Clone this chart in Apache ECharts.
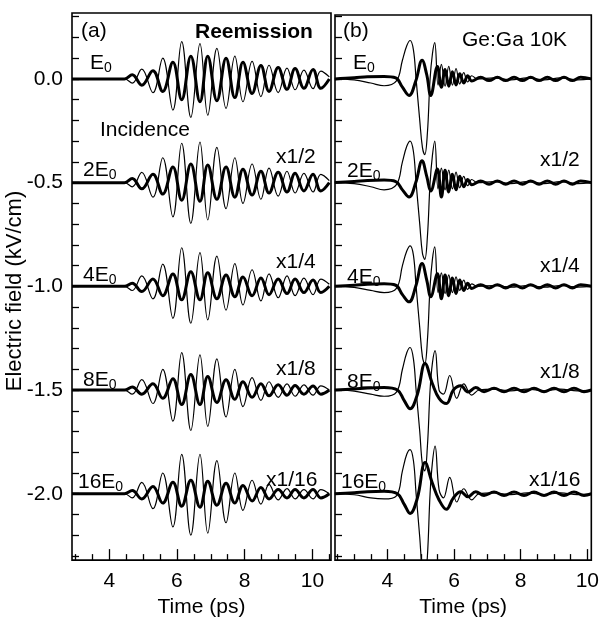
<!DOCTYPE html>
<html>
<head>
<meta charset="utf-8">
<script src="https://cdn.jsdelivr.net/npm/echarts@6/dist/echarts.min.js"></script>
<style>
  html, body { margin: 0; padding: 0; background: #fff; }
  #chart { width: 602px; height: 623px; }
</style>
</head>
<body>
<div id="chart"></div>
<script>
// vertical offsets of the five traces (E0, 2E0, 4E0, 8E0, 16E0)
const traceOffsets = [0, -0.5, -1, -1.5, -2];

// panel (a) Reemission: time of each extremum, shared by all traces
const tA = [2.9, 4.45, 4.68, 4.96, 5.29, 5.58, 5.88, 6.14, 6.41, 6.68, 6.91, 7.18, 7.45,
  7.71, 7.95, 8.22, 8.48, 8.72, 8.99, 9.25, 9.49, 9.75, 10.02, 10.25, 10.5];
// incidence (thin)
const aInc1 = [0, 0, -0.02, 0.047, -0.066, 0.10, -0.15, 0.18, -0.185, 0.17, -0.175, 0.147, -0.142, 0.11, -0.11, 0.085, -0.085, 0.066, -0.066, 0.052, -0.052, 0.043, -0.047, 0.038, 0.01];
const aInc2 = [0, 0, -0.02, 0.05, -0.07, 0.12, -0.165, 0.19, -0.196, 0.195, -0.18, 0.17, -0.125, 0.12, -0.1, 0.09, -0.08, 0.07, -0.065, 0.055, -0.05, 0.045, -0.045, 0.04, 0.01];
const aInc4 = [0, 0, -0.02, 0.05, -0.06, 0.107, -0.154, 0.186, -0.178, 0.163, -0.162, 0.146, -0.115, 0.11, -0.09, 0.08, -0.07, 0.06, -0.055, 0.05, -0.045, 0.04, -0.04, 0.035, 0.01];
const aInc8 = [0, 0, -0.02, 0.05, -0.065, 0.10, -0.15, 0.18, -0.195, 0.17, -0.175, 0.15, -0.13, 0.10, -0.08, 0.06, -0.05, 0.04, -0.035, 0.03, -0.03, 0.025, -0.025, 0.02, 0];
const aInc16 = [0, 0, -0.02, 0.055, -0.072, 0.10, -0.16, 0.19, -0.2, 0.19, -0.19, 0.16, -0.14, 0.10, -0.08, 0.065, -0.05, 0.045, -0.03, 0.025, -0.025, 0.02, -0.025, 0.02, 0];
// reemission (thick)
const aRe1 = [0, 0, 0.02, -0.03, 0.04, -0.06, 0.08, -0.10, 0.11, -0.11, 0.11, -0.105, 0.10, -0.09, 0.08, -0.07, 0.065, -0.06, 0.055, -0.05, 0.05, -0.045, 0.045, -0.045, 0];
const aRe2 = [0, 0, 0.02, -0.03, 0.04, -0.055, 0.075, -0.085, 0.09, -0.09, 0.085, -0.08, 0.075, -0.07, 0.065, -0.06, 0.055, -0.05, 0.05, -0.045, 0.045, -0.04, 0.04, -0.04, 0];
const aRe4 = [0, 0, 0.015, -0.025, 0.035, -0.045, 0.06, -0.065, 0.07, -0.065, 0.065, -0.06, 0.055, -0.05, 0.045, -0.045, 0.04, -0.04, 0.035, -0.035, 0.035, -0.03, 0.03, -0.03, 0];
const aRe8 = [0, 0, 0.015, -0.02, 0.03, -0.04, 0.055, -0.07, 0.075, -0.07, 0.065, -0.06, 0.05, -0.045, 0.04, -0.035, 0.03, -0.028, 0.025, -0.025, 0.022, -0.02, 0.02, -0.02, 0];
const aRe16 = [0, 0, 0.015, -0.025, 0.035, -0.045, 0.055, -0.06, 0.065, -0.065, 0.06, -0.055, 0.05, -0.045, 0.04, -0.035, 0.03, -0.025, 0.02, -0.02, 0.02, -0.02, 0.02, -0.02, 0];

// panel (b) Ge:Ga 10K
const tB1 = [2.42, 3.0, 3.5, 3.9, 4.27, 4.45, 4.58, 4.68, 4.78, 4.86, 4.97, 5.05, 5.12, 5.2, 5.28, 5.35, 5.42,
  5.52, 5.62, 5.73, 5.84, 5.95, 6.06, 6.17, 6.29, 6.41, 6.53, 6.7, 7.2, 7.7, 8.2, 8.7, 9.2, 9.7, 10.12];
const bInc1 = [0, -0.005, -0.02, -0.033, -0.01, 0.09, 0.16, 0.185, 0.14, 0, -0.2, -0.33, -0.365, -0.26, 0, 0.12, 0.175, -0.03, 0.07, -0.035, 0.06, -0.03, 0.05, -0.025, 0.03, -0.015, 0.015, 0, 0.005, -0.005, 0.005, -0.005, 0.005, -0.005, 0];
const bInc2 = [0, -0.005, -0.02, -0.035, -0.01, 0.1, 0.175, 0.2, 0.15, 0, -0.2, -0.34, -0.37, -0.26, 0, 0.13, 0.2, -0.03, 0.07, -0.035, 0.06, -0.03, 0.05, -0.025, 0.03, -0.015, 0.015, 0, 0.005, -0.005, 0.005, -0.005, 0.005, -0.005, 0];
const bInc4 = [0, -0.005, -0.02, -0.03, -0.01, 0.1, 0.17, 0.195, 0.15, 0, -0.2, -0.34, -0.375, -0.26, 0, 0.13, 0.19, -0.03, 0.065, -0.035, 0.055, -0.03, 0.045, -0.02, 0.03, -0.015, 0.012, 0, 0.004, -0.004, 0.004, -0.004, 0.004, -0.004, 0];
const tB2 = [2.42, 3.0, 3.5, 3.9, 4.27, 4.45, 4.58, 4.68, 4.78, 4.86, 4.97, 5.05, 5.12, 5.2, 5.28, 5.35, 5.43,
  5.55, 5.68, 5.87, 6.08, 6.29, 6.53, 6.75, 7.2, 7.7, 8.2, 8.7, 9.2, 9.7, 10.12];
const bInc8 = [0, -0.005, -0.02, -0.03, -0.01, 0.1, 0.18, 0.205, 0.15, 0, -0.2, -0.36, -0.39, -0.27, 0, 0.13, 0.19, 0.0, -0.02, 0.07, -0.04, 0.03, -0.025, 0, 0.004, -0.004, 0.004, -0.004, 0.004, -0.004, 0];
const bInc16 = [0, -0.005, -0.02, -0.025, -0.01, 0.11, 0.19, 0.213, 0.16, 0, -0.21, -0.38, -0.42, -0.3, 0, 0.15, 0.23, 0.02, -0.02, 0.079, -0.04, 0.024, -0.03, 0, 0.004, -0.004, 0.004, -0.004, 0.004, -0.004, 0];
const tB3 = [2.42, 3.0, 3.4, 3.9, 4.25, 4.45, 4.65, 4.85, 5.04, 5.18, 5.3, 5.5, 5.62, 5.73, 5.84, 5.95, 6.06, 6.17,
  6.29, 6.41, 6.53, 6.8, 7.05, 7.3, 7.55, 7.8, 8.05, 8.3, 8.55, 8.8, 9.05, 9.3, 9.55, 9.8, 10.12];
const bRe1 = [0, 0.005, 0.01, 0.012, 0.005, -0.04, -0.08, -0.01, 0.09, 0.02, -0.08, 0.06, -0.04, 0.045, -0.035, 0.035, -0.03, 0.025, -0.02, 0.015, -0.01, 0.008, -0.008, 0.008, -0.008, 0.008, -0.008, 0.008, -0.008, 0.008, -0.008, 0.008, -0.008, 0.008, 0];
const bRe2 = [0, 0.005, 0.01, 0.012, 0.005, -0.035, -0.07, 0.0, 0.105, 0.03, -0.04, 0.065, -0.07, 0.06, -0.045, 0.04, -0.035, 0.03, -0.02, 0.015, -0.01, 0.008, -0.008, 0.008, -0.008, 0.008, -0.008, 0.008, -0.008, 0.008, -0.008, 0.008, -0.008, 0.008, 0];
const bRe4 = [0, 0.005, 0.01, 0.012, 0.005, -0.04, -0.075, 0.0, 0.11, 0.03, -0.05, 0.06, -0.06, 0.055, -0.045, 0.04, -0.035, 0.03, -0.02, 0.015, -0.01, 0.008, -0.008, 0.008, -0.008, 0.008, -0.008, 0.008, -0.008, 0.008, -0.008, 0.008, -0.008, 0.008, 0];
const tB4 = [2.42, 3.0, 3.4, 3.9, 4.3, 4.5, 4.68, 4.9, 5.13, 5.35, 5.55, 5.77, 5.98, 6.2, 6.42, 6.65, 6.9,
  7.2, 7.5, 7.8, 8.1, 8.4, 8.7, 9.0, 9.3, 9.6, 9.9, 10.12];
const bRe8 = [0, 0.005, 0.01, 0.012, 0, -0.05, -0.09, -0.02, 0.128, 0.03, -0.04, -0.065, 0, 0.02, -0.01, 0.012, -0.008, 0.008, -0.008, 0.008, -0.008, 0.008, -0.008, 0.008, -0.008, 0.008, -0.008, 0];
const bRe16 = [0, 0.005, 0.01, 0.012, 0, -0.05, -0.095, -0.02, 0.15, 0.05, -0.03, -0.075, -0.02, 0.01, -0.015, 0.01, -0.008, 0.008, -0.008, 0.008, -0.008, 0.008, -0.008, 0.008, -0.008, 0.008, -0.008, 0];

// ticks
const yTicks = [0.3, 0.2, 0.1, 0, -0.1, -0.2, -0.3, -0.4, -0.5, -0.6, -0.7, -0.8, -0.9, -1, -1.1, -1.2, -1.3, -1.4, -1.5, -1.6, -1.7, -1.8, -1.9, -2, -2.1, -2.2, -2.3];
const yLabels = [0, -0.5, -1, -1.5, -2];
const xLabels = [4, 6, 8, 10];
const xMinorA = [3, 3.5, 4.5, 5, 5.5, 6.5, 7, 7.5, 8.5, 9, 9.5, 10.5];
const xMinorB = [2.5, 3, 3.5, 4.5, 5, 5.5, 6.5, 7, 7.5, 8.5, 9, 9.5];

const FONT = '"Liberation Sans", Arial, sans-serif';

const myChart = echarts.init(document.getElementById('chart'));

const pairs = (ts, vs, off) => ts.map((t, i) => [t, vs[i] + off]);

function curve(ts, vs, off, thick, xi, yi) {
  return {
    type: 'line',
    xAxisIndex: xi,
    yAxisIndex: yi,
    data: pairs(ts, vs, off),
    showSymbol: false,
    smooth: 0.4,
    silent: true,
    animation: false,
    lineStyle: { color: '#000', width: thick ? 3 : 1.2 }
  };
}

const series = [];
const aInc = [aInc1, aInc2, aInc4, aInc8, aInc16];
const aRe = [aRe1, aRe2, aRe4, aRe8, aRe16];
traceOffsets.forEach((off, k) => {
  series.push(curve(tA, aInc[k], off, false, 0, 0));
  series.push(curve(tA, aRe[k], off, true, 0, 0));
});
const bInc = [[tB1, bInc1], [tB1, bInc2], [tB1, bInc4], [tB2, bInc8], [tB2, bInc16]];
const bRe = [[tB3, bRe1], [tB3, bRe2], [tB3, bRe4], [tB4, bRe8], [tB4, bRe16]];
traceOffsets.forEach((off, k) => {
  series.push(curve(bInc[k][0], bInc[k][1], off, false, 2, 1));
  series.push(curve(bRe[k][0], bRe[k][1], off, true, 2, 1));
});

function xMain(grid, min, max) {
  return {
    type: 'value', gridIndex: grid, min: min, max: max, position: 'bottom',
    name: 'Time (ps)', nameLocation: 'middle', nameGap: 33,
    nameTextStyle: { color: '#000', fontSize: 21, fontFamily: FONT },
    axisLine: { show: false, onZero: false },
    splitLine: { show: false },
    axisTick: { show: true, inside: true, length: 11, customValues: xLabels, lineStyle: { color: '#000', width: 1.3 } },
    axisLabel: { show: true, customValues: xLabels, margin: 11, color: '#000', fontSize: 21, fontFamily: FONT }
  };
}
function xMinor(grid, min, max, ticks) {
  return {
    type: 'value', gridIndex: grid, min: min, max: max, position: 'bottom',
    axisLine: { show: false, onZero: false },
    splitLine: { show: false },
    axisLabel: { show: false },
    axisTick: { show: true, inside: true, length: 6, customValues: ticks, lineStyle: { color: '#000', width: 1.3 } }
  };
}
function yAx(grid, max, labels) {
  return {
    type: 'value', gridIndex: grid, min: -2.32, max: max, position: 'left',
    axisLine: { show: false, onZero: false },
    splitLine: { show: false },
    axisTick: { show: true, inside: true, length: 7, customValues: yTicks, lineStyle: { color: '#000', width: 1.3 } },
    axisLabel: {
      show: labels, customValues: yLabels, margin: 9, color: '#000', fontSize: 21, fontFamily: FONT,
      formatter: v => Number(v).toFixed(1)
    }
  };
}

function txt(x, y, text, extra) {
  return {
    type: 'text', x: x, y: y, silent: true,
    style: Object.assign({ text: text, fill: '#000', fontSize: 21, fontFamily: FONT, align: 'left', verticalAlign: 'middle' }, extra || {})
  };
}
function sub(x, y, pre) {
  return txt(x, y, '{n|' + pre + '}{s|0}', {
    rich: {
      n: { fontSize: 21, lineHeight: 24, fontFamily: FONT, fill: '#000' },
      s: { fontSize: 14, lineHeight: 14, fontFamily: FONT, fill: '#000', verticalAlign: 'bottom' }
    }
  });
}

const graphics = [
  txt(81, 31, '(a)'),
  txt(195, 32, 'Reemission', { fontWeight: 'bold' }),
  sub(90, 63, 'E'),
  txt(100, 130, 'Incidence'),
  sub(83, 170, '2E'), txt(276, 157, 'x1/2'),
  sub(83, 275, '4E'), txt(276, 262, 'x1/4'),
  sub(83, 380, '8E'), txt(276, 369, 'x1/8'),
  sub(78, 482, '16E'), txt(266, 480, 'x1/16'),
  txt(343, 31, '(b)'),
  txt(462, 40, 'Ge:Ga 10K'),
  sub(353, 63, 'E'),
  sub(347, 171, '2E'), txt(540, 160, 'x1/2'),
  sub(347, 277, '4E'), txt(540, 266, 'x1/4'),
  sub(347, 382, '8E'), txt(540, 372, 'x1/8'),
  sub(341, 482, '16E'), txt(529, 480, 'x1/16'),
  {
    type: 'text', x: 15, y: 291, rotation: Math.PI / 2, silent: true,
    style: { text: 'Electric field (kV/cm)', fill: '#000', fontSize: 22, fontFamily: FONT, align: 'center', verticalAlign: 'middle' }
  }
];

const options = {
  backgroundColor: '#fff',
  animation: false,
  grid: [
    { left: 72, top: 13, width: 259, height: 556, show: true, borderColor: '#000', borderWidth: 1.6, backgroundColor: 'transparent' },
    { left: 335, top: 15, width: 259, height: 554, show: true, borderColor: '#000', borderWidth: 1.6, backgroundColor: 'transparent' }
  ],
  xAxis: [
    xMain(0, 2.9, 10.55),
    xMinor(0, 2.9, 10.55, xMinorA),
    xMain(1, 2.426, 10.12),
    xMinor(1, 2.426, 10.12, xMinorB)
  ],
  yAxis: [
    yAx(0, 0.318, true),
    yAx(1, 0.308, false)
  ],
  graphic: graphics,
  series: series
};

myChart.setOption(options);
</script>
</body>
</html>
